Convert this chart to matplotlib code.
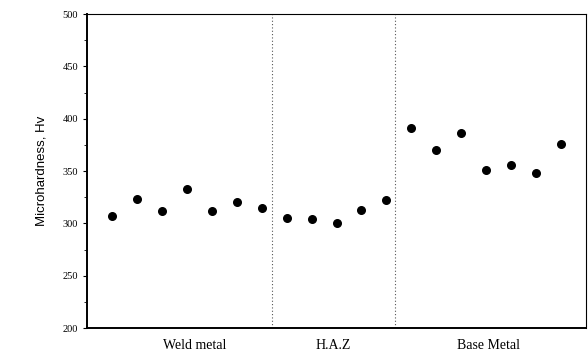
import numpy as np
import matplotlib
matplotlib.use('Agg')
import matplotlib.pyplot as plt
from matplotlib.ticker import MultipleLocator

# Microhardness readings across the weld (Hv)
weld_metal = [307, 323, 312, 333, 312, 320, 315]
haz = [305, 304, 300, 313, 322]
base_metal = [391, 370, 386, 351, 356, 348, 376]

zone_labels = ['Weld metal', 'H.A.Z', 'Base Metal']
zone_label_pos = [4.3, 9.85, 16.1]
zone_bounds = [7.4, 12.36]

hardness = weld_metal + haz + base_metal
position = np.arange(1, len(hardness) + 1)

fig = plt.figure(figsize=(5.88, 3.61), dpi=100)
ax = fig.add_axes([0.148, 0.0914, 0.8486, 0.8696])

ax.scatter(position, hardness, s=30, color='black', zorder=3)

for xb in zone_bounds:
    ax.axvline(xb, color='#555555', linestyle=(0, (1, 2)), linewidth=0.8)

ax.set_xlim(0, 20)
ax.set_ylim(200, 500)

ax.yaxis.set_major_locator(MultipleLocator(50))
ax.yaxis.set_minor_locator(MultipleLocator(25))
ax.tick_params(axis='y', which='major', direction='out', length=3, width=0.8, labelsize=7.5)
ax.tick_params(axis='y', which='minor', direction='out', length=2, width=0.6)
for lbl in ax.get_yticklabels():
    lbl.set_family('Liberation Serif')

ax.set_xticks(zone_label_pos)
ax.set_xticklabels(zone_labels, family='Liberation Serif', fontsize=10)
ax.tick_params(axis='x', length=0, pad=8)

ax.spines['left'].set_linewidth(1.4)
ax.spines['bottom'].set_linewidth(1.4)
ax.spines['top'].set_linewidth(0.8)
ax.spines['right'].set_linewidth(0.8)

ax.set_ylabel('Microhardness, Hv', family='Liberation Sans', fontsize=9.5, labelpad=11)

fig.savefig('out.png', dpi=100)
